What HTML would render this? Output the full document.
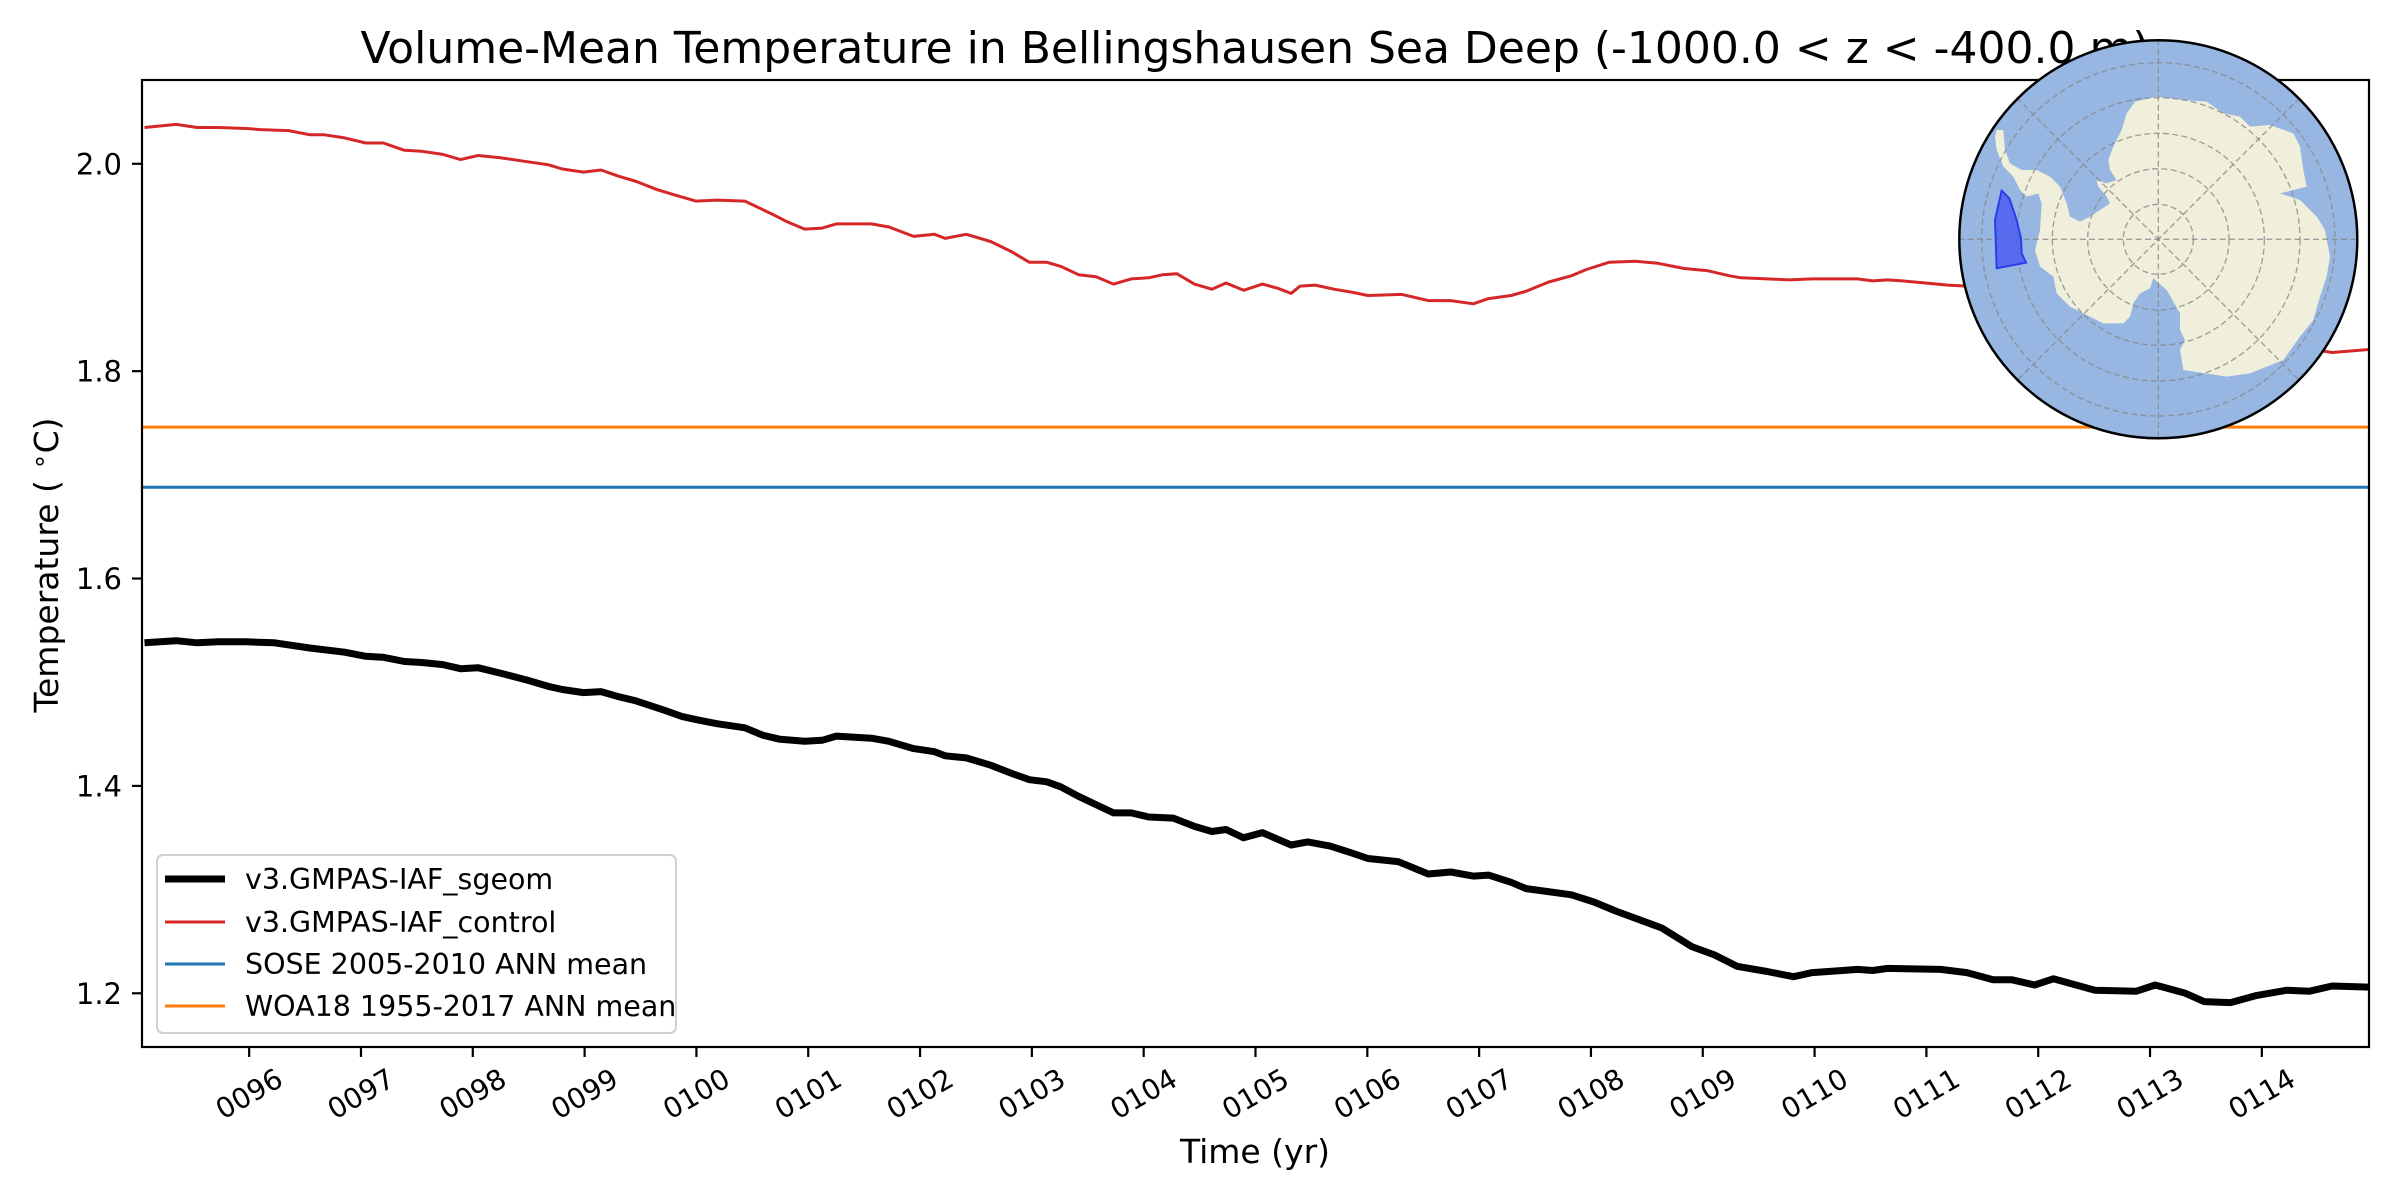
<!DOCTYPE html>
<html><head><meta charset="utf-8">
<style>
html,body{margin:0;padding:0;background:#fff;}
svg{display:block;font-family:"DejaVu Sans","Liberation Sans",sans-serif;}
</style></head>
<body>
<svg id="chart" width="2400" height="1200" viewBox="0 0 2400 1200" xmlns="http://www.w3.org/2000/svg">
  <rect x="0" y="0" width="2400" height="1200" fill="#fff"/>
  <defs>
    <clipPath id="plotclip"><rect x="142" y="80" width="2227" height="967"/></clipPath>
    <clipPath id="mapclip"><circle cx="625" cy="628" r="597"/></clipPath>
  </defs>
  <g id="series" clip-path="url(#plotclip)"></g>
  <rect x="142" y="80" width="2227" height="967" fill="none" stroke="#000" stroke-width="2.2"/>
  <g id="xticks"></g>
  <g id="yticks"></g>
  <text x="1255" y="1163" font-size="33" text-anchor="middle">Time (yr)</text>
  <text transform="translate(58,565) rotate(-90)" font-size="33" text-anchor="middle">Temperature ( <tspan font-size="26" dy="-10">∘</tspan><tspan dy="10">C)</tspan></text>
  <text x="1255" y="63" font-size="44" text-anchor="middle">Volume-Mean Temperature in Bellingshausen Sea Deep (-1000.0 &lt; z &lt; -400.0 m)</text>

  <g>
    <rect x="157" y="855" width="519" height="178" rx="6" fill="#fff" fill-opacity="0.8" stroke="#d0d0d0" stroke-width="2"/>
    <line x1="165" y1="879" x2="225" y2="879" stroke="#000" stroke-width="7"/>
    <text x="245" y="889" font-size="28.5">v3.GMPAS-IAF_sgeom</text>
    <line x1="165" y1="922" x2="225" y2="922" stroke="#d62728" stroke-width="3"/>
    <text x="245" y="932" font-size="28.5">v3.GMPAS-IAF_control</text>
    <line x1="165" y1="964" x2="225" y2="964" stroke="#1f77b4" stroke-width="3"/>
    <text x="245" y="974" font-size="28.5">SOSE 2005-2010 ANN mean</text>
    <line x1="165" y1="1006" x2="225" y2="1006" stroke="#ff7f0e" stroke-width="3"/>
    <text x="245" y="1016" font-size="28.5">WOA18 1955-2017 ANN mean</text>
  </g>

  <g>
    <circle cx="2158.3" cy="239.3" r="199" fill="#97b6e1"/>
    <g transform="translate(1950,30) scale(0.33333)" clip-path="url(#mapclip)">
      <polygon fill="#efefdb" points="140,300 160,300 165,360 180,400 215,420 260,420 300,440 330,470 350,520 360,560 390,575 420,560 450,540 480,520 470,500 445,470 440,450 470,460 500,450 480,420 475,390 490,350 515,300 530,250 555,215 620,200 700,210 770,215 820,250 870,260 900,290 960,285 1030,310 1050,350 1060,420 1070,470 990,490 1050,510 1100,560 1125,600 1140,680 1130,740 1110,800 1090,870 1050,920 1000,990 900,1030 830,1040 700,1020 690,960 705,930 690,900 690,850 650,780 610,745 600,775 570,790 550,820 540,860 520,880 460,880 400,850 360,830 320,790 310,740 270,710 255,660 270,600 275,520 265,490 230,500 210,480 190,440 160,410 140,360 135,320"/>
      <g id="mapgrid" fill="none" stroke="#888" stroke-opacity="0.8" stroke-width="4" stroke-dasharray="18,10"></g>
      <polygon points="155,482 178,505 200,570 213,625 215,670 228,698 140,715 135,570" fill="#4b5ef0" fill-opacity="0.85" stroke="#2b3de8" stroke-width="6"/>
    </g>
    <circle cx="2158.3" cy="239.3" r="199" fill="none" stroke="#000" stroke-width="2.5"/>
  </g>
</svg>
<script>
const yearTicks = [96,97,98,99,100,101,102,103,104,105,106,107,108,109,110,111,112,113,114];
const yTickValues = [1.2,1.4,1.6,1.8,2.0];
const yTickLabels = ["1.2","1.4","1.6","1.8","2.0"];
const soseMean = 1.688;
const woaMean = 1.746;
const redTimes = [95.064,95.347,95.535,95.724,95.975,96.101,96.352,96.541,96.666,96.854,97.043,97.2,97.389,97.545,97.733,97.891,98.047,98.236,98.487,98.676,98.801,98.99,99.147,99.303,99.461,99.649,99.806,99.995,100.183,100.434,100.686,100.811,100.968,101.125,101.251,101.565,101.722,101.942,102.13,102.224,102.413,102.632,102.821,102.978,103.134,103.26,103.417,103.574,103.731,103.888,104.046,104.171,104.296,104.454,104.61,104.736,104.894,105.062,105.197,105.318,105.399,105.534,105.702,105.87,106.005,106.308,106.545,106.746,106.948,107.084,107.286,107.42,107.622,107.825,107.959,108.161,108.397,108.599,108.834,109.037,109.239,109.34,109.575,109.778,109.98,110.384,110.519,110.653,110.788,110.991,111.192,111.361,112.0,112.5,113.0,113.5,114.0,114.4,114.628,114.965];
const redTemps = [2.035,2.038,2.035,2.035,2.034,2.033,2.032,2.028,2.028,2.025,2.020,2.020,2.013,2.012,2.009,2.004,2.008,2.006,2.002,1.999,1.995,1.992,1.994,1.988,1.983,1.975,1.970,1.964,1.965,1.964,1.951,1.944,1.937,1.938,1.942,1.942,1.939,1.930,1.932,1.928,1.932,1.925,1.915,1.905,1.905,1.901,1.893,1.891,1.884,1.889,1.890,1.893,1.894,1.884,1.879,1.885,1.878,1.884,1.880,1.875,1.882,1.883,1.879,1.876,1.873,1.874,1.868,1.868,1.865,1.870,1.873,1.877,1.886,1.892,1.898,1.905,1.906,1.904,1.899,1.897,1.892,1.890,1.889,1.888,1.889,1.889,1.887,1.888,1.887,1.885,1.883,1.882,1.875,1.862,1.850,1.838,1.829,1.822,1.818,1.821];
const blackTimes = [95.064,95.347,95.535,95.724,95.975,96.227,96.541,96.854,97.043,97.2,97.389,97.545,97.733,97.891,98.047,98.236,98.487,98.676,98.801,98.99,99.147,99.303,99.461,99.712,99.869,99.995,100.183,100.434,100.591,100.748,100.968,101.125,101.251,101.565,101.722,101.942,102.13,102.224,102.413,102.632,102.821,102.978,103.134,103.26,103.417,103.574,103.731,103.888,104.046,104.265,104.454,104.61,104.736,104.894,105.062,105.318,105.467,105.668,105.87,106.005,106.275,106.545,106.746,106.948,107.084,107.286,107.42,107.825,108.026,108.229,108.634,108.902,109.104,109.306,109.575,109.812,109.98,110.25,110.384,110.519,110.653,111.126,111.361,111.597,111.766,111.968,112.136,112.507,112.878,113.046,113.316,113.484,113.72,113.956,114.225,114.427,114.628,114.965];
const blackTemps = [1.538,1.540,1.538,1.539,1.539,1.538,1.533,1.529,1.525,1.524,1.520,1.519,1.517,1.513,1.514,1.509,1.502,1.496,1.493,1.490,1.491,1.486,1.482,1.473,1.467,1.464,1.460,1.456,1.449,1.445,1.443,1.444,1.448,1.446,1.443,1.436,1.433,1.429,1.427,1.420,1.412,1.406,1.404,1.399,1.390,1.382,1.374,1.374,1.370,1.369,1.361,1.356,1.358,1.350,1.355,1.343,1.346,1.342,1.335,1.330,1.327,1.315,1.317,1.313,1.314,1.307,1.301,1.295,1.288,1.279,1.263,1.245,1.237,1.226,1.221,1.216,1.220,1.222,1.223,1.222,1.224,1.223,1.220,1.213,1.213,1.208,1.214,1.203,1.202,1.208,1.200,1.192,1.191,1.198,1.203,1.202,1.207,1.206];

const NS = "http://www.w3.org/2000/svg";
const X0 = 142, X1 = 2369, T0 = 95.0417, T1 = 114.9583;
const Y0 = 1047, Y1 = 80, V0 = 1.1482, V1 = 2.0808;
function xScale(t){ return X0 + (t - T0) / (T1 - T0) * (X1 - X0); }
function yScale(v){ return Y0 + (v - V0) / (V1 - V0) * (Y1 - Y0); }
function mk(tag, attrs){ const e = document.createElementNS(NS, tag); for (const k in attrs) e.setAttribute(k, attrs[k]); return e; }

const series = document.getElementById('series');
function hline(v, color, name){
  const l = mk('line', {x1: X0, x2: X1, y1: yScale(v), y2: yScale(v), stroke: color, 'stroke-width': 3});
  
  
  series.appendChild(l);
}
function curve(ts, vs, color, w, name){
  const d = ts.map((t, i) => (i ? 'L' : 'M') + xScale(t).toFixed(1) + ',' + yScale(vs[i]).toFixed(1)).join(' ');
  const p = mk('path', {d: d, fill: 'none', stroke: color, 'stroke-width': w, 'stroke-linejoin': 'round'});
  
  
  series.appendChild(p);
}
hline(woaMean, '#ff7f0e', 'woa18-mean-line');
hline(soseMean, '#1f77b4', 'sose-mean-line');
curve(redTimes, redTemps, '#d62728', 3, 'control-line');
curve(blackTimes, blackTemps, '#000', 7, 'sgeom-line');

const xt = document.getElementById('xticks');
yearTicks.forEach(yr => {
  const x = xScale(yr);
  const tk = mk('line', {x1: x, x2: x, y1: 1047, y2: 1057, stroke: '#000', 'stroke-width': 2.2});
  
  
  xt.appendChild(tk);
  const lab = mk('text', {transform: 'translate(' + x + ',1094) rotate(-30)', 'font-size': 28, 'text-anchor': 'middle', 'dominant-baseline': 'central'});
  
  
  lab.textContent = String(yr).padStart(4, '0');
  xt.appendChild(lab);
});
const ytg = document.getElementById('yticks');
yTickValues.forEach((v, i) => {
  const y = yScale(v);
  const tk = mk('line', {x1: 132, x2: 142, y1: y, y2: y, stroke: '#000', 'stroke-width': 2.2});
  
  
  ytg.appendChild(tk);
  const lab = mk('text', {x: 122, y: y + 10.5, 'font-size': 29, 'text-anchor': 'end'});
  
  
  lab.textContent = yTickLabels[i];
  ytg.appendChild(lab);
});

const grid = document.getElementById('mapgrid');
[105, 212, 318, 425, 530].forEach(r => {
  const c = mk('circle', {cx: 625, cy: 628, r: r});
  
  
  grid.appendChild(c);
});
[0, 45, 90, 135].forEach(a => {
  const rad = a * Math.PI / 180, R = 600;
  const l = mk('line', {x1: 625 - R * Math.cos(rad), y1: 628 - R * Math.sin(rad), x2: 625 + R * Math.cos(rad), y2: 628 + R * Math.sin(rad)});
  
  
  grid.appendChild(l);
});
</script>
</body></html>
